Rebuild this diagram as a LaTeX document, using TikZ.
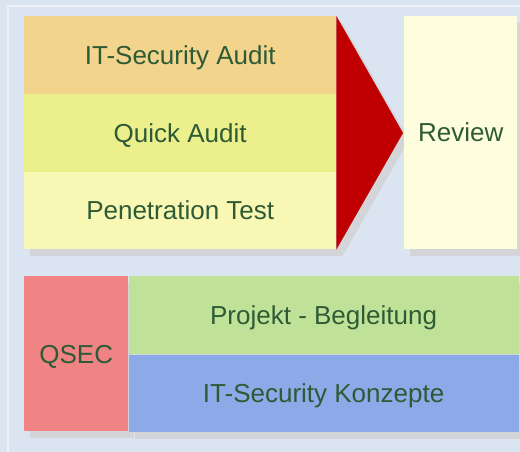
\documentclass[tikz,border=0pt]{standalone}
\usepackage{fontspec}
\setmainfont{Liberation Sans}
\usetikzlibrary{shadows}

\definecolor{bgblue}{HTML}{DBE5F1}
\definecolor{framewhite}{HTML}{EEF2F8}
\definecolor{shadowgrey}{HTML}{D3D5D8}
\definecolor{textgreen}{HTML}{2E5A36}
\definecolor{auditorange}{HTML}{F2D48C}
\definecolor{quickyellow}{HTML}{EBF08C}
\definecolor{pentestyellow}{HTML}{F8F8B4}
\definecolor{reviewyellow}{HTML}{FEFEDE}
\definecolor{arrowred}{HTML}{C00000}
\definecolor{qsecred}{HTML}{F08484}
\definecolor{projektgreen}{HTML}{C0E298}
\definecolor{konzeptblue}{HTML}{8DAAE8}

\tikzset{
    boxshadow/.style={drop shadow={shadow xshift=6pt, shadow yshift=-7pt, fill=shadowgrey, opacity=1}},
    box/.style={rectangle, inner sep=0pt, anchor=north west, text=textgreen,
        font=\fontsize{26}{30}\selectfont, text height=18.6pt, text depth=0pt, boxshadow}
}

\begin{document}
\begin{tikzpicture}[x=1pt, y=-1pt]
    \useasboundingbox (0,0) rectangle (520,452);
    \fill[bgblue] (0,0) rectangle (520,452);
    \draw[framewhite, line width=1.5pt] (8,6) rectangle (540,470); % Rahmen
    % obere Reihe
    \foreach \name/\txt/\col [count=\i from 0] in {audit/IT-Security Audit/auditorange, quick/Quick Audit/quickyellow, pentest/Penetration Test/pentestyellow}
        \node[box, fill=\col, minimum width=312pt, minimum height=77.7pt] (\name) at (24,{16+77.7*\i}) {\txt};
    \coordinate (tip) at (403,133);
    \fill[arrowred, boxshadow] (audit.north east) -- (tip) -- (pentest.south east) -- cycle;
    \node[box, fill=reviewyellow, minimum width=113pt, minimum height=233pt] (review) at (404,16) {Review};
    % untere Reihe
    \node[box, fill=qsecred, minimum width=104pt, minimum height=155pt] (qsec) at (24,276) {QSEC};
    \node[box, fill=projektgreen, minimum width=390pt, minimum height=78pt] (projekt) at (qsec.north east) {Projekt - Begleitung};
    \node[box, fill=konzeptblue, minimum width=390pt, minimum height=77pt] (konzepte) at (projekt.south west) {IT-Security Konzepte};
\end{tikzpicture}
\end{document}
